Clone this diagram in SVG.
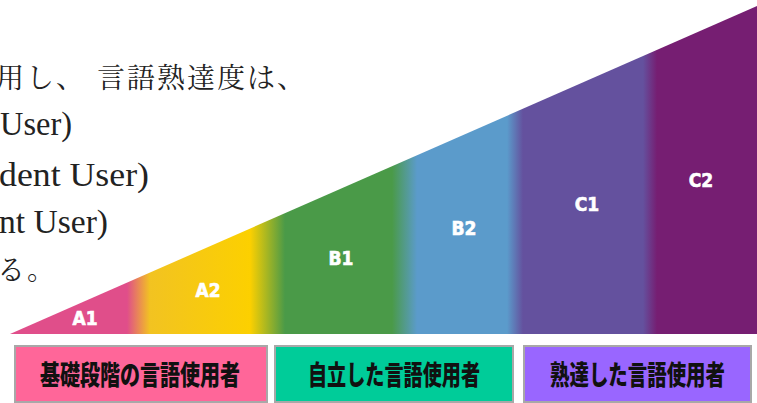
<svg xmlns="http://www.w3.org/2000/svg" width="757" height="403" viewBox="0 0 757 403">
<style>
.body-jp { font-family: "Liberation Serif", "Noto Serif CJK JP", "Noto Sans CJK JP", serif; font-size: 28px; fill: #222; letter-spacing: 2px; }
.body-en { font-family: "Liberation Serif", "Noto Serif", serif; font-size: 34px; fill: #222; }
.lvl { font-family: "DejaVu Sans Condensed", "DejaVu Sans", "Liberation Sans", sans-serif; font-weight: bold; font-size: 19px; fill: #fff; stroke: #fff; stroke-width: 0.6; text-anchor: middle; }
.box { stroke: #a8a8a8; stroke-width: 2; }
.boxtxt { font-family: "Noto Sans CJK JP", sans-serif; font-weight: 900; font-size: 27px; fill: #111; }
</style>
<defs>
<linearGradient id="band" gradientUnits="userSpaceOnUse" x1="0" y1="0" x2="757" y2="0">
<stop offset="0" stop-color="#E04E8A"/>
<stop offset="0.1678" stop-color="#E04E8A"/>
<stop offset="0.1982" stop-color="#F2C321"/>
<stop offset="0.3303" stop-color="#FCD000"/>
<stop offset="0.3765" stop-color="#4A9A48"/>
<stop offset="0.5178" stop-color="#4A9A48"/>
<stop offset="0.5509" stop-color="#5B9BCB"/>
<stop offset="0.6698" stop-color="#5B9BCB"/>
<stop offset="0.6909" stop-color="#64519E"/>
<stop offset="0.8494" stop-color="#64519E"/>
<stop offset="0.8679" stop-color="#761E72"/>
<stop offset="1" stop-color="#761E72"/>
</linearGradient>
</defs>
<rect width="757" height="403" fill="#fff"/>
<g id="body-text">
<text class="body-jp" x="-4" y="88">用し、</text>
<text class="body-jp" x="97" y="88">言語熟達度は、</text>
<text class="body-en" x="0" y="135" textLength="72" lengthAdjust="spacingAndGlyphs">User)</text>
<text class="body-en" x="-1" y="186" textLength="150" lengthAdjust="spacingAndGlyphs">dent User)</text>
<text class="body-en" x="-1" y="233" textLength="109" lengthAdjust="spacingAndGlyphs">nt User)</text>
<text class="body-jp" x="-3" y="280">る。</text>
</g>
<g id="level-chart">
<polygon points="10,334 757,6 757,334" fill="url(#band)"/>
<text class="lvl" x="85" y="325">A1</text>
<text class="lvl" x="208" y="297">A2</text>
<text class="lvl" x="341" y="265">B1</text>
<text class="lvl" x="464" y="235">B2</text>
<text class="lvl" x="587" y="211">C1</text>
<text class="lvl" x="701" y="187">C2</text>
</g>
<g id="basic-user">
<rect class="box" x="15" y="346" width="252" height="56" fill="#FF6699" stroke="#e9a0b8"/>
<text class="boxtxt" x="40" y="385" textLength="200" lengthAdjust="spacingAndGlyphs">基礎段階の言語使用者</text>
</g>
<g id="independent-user">
<rect class="box" x="275" y="346" width="238" height="56" fill="#00CC99"/>
<text class="boxtxt" x="308" y="385" textLength="172" lengthAdjust="spacingAndGlyphs">自立した言語使用者</text>
</g>
<g id="proficient-user">
<rect class="box" x="524" y="346" width="227" height="56" fill="#9966FF"/>
<text class="boxtxt" x="550" y="385" textLength="175" lengthAdjust="spacingAndGlyphs">熟達した言語使用者</text>
</g>
</svg>
